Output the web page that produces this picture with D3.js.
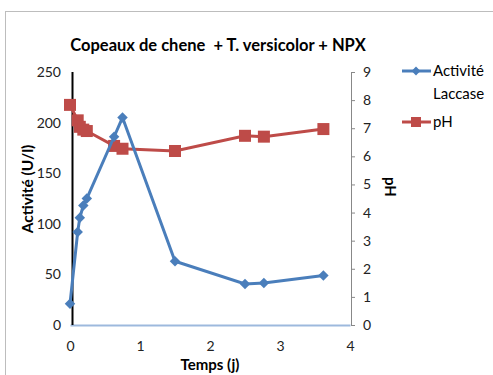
<!DOCTYPE html>
<html><head><meta charset="utf-8">
<script src="https://cdn.jsdelivr.net/npm/d3@7/dist/d3.min.js"></script>
<style>
body{margin:0;background:#fff;}
text{font-family:"Liberation Sans Narrow","Lato",sans-serif;white-space:pre;}
</style></head>
<body>
<svg id="c" width="493" height="375"></svg>
<script>
const times    = [0, 0.11, 0.14, 0.19, 0.24, 0.63, 0.75, 1.5, 2.5, 2.77, 3.62];
const laccase  = [21, 92, 106, 118, 125, 186, 205, 63, 40.5, 41.5, 49];
const ph       = [7.83, 7.28, 7.05, 6.95, 6.9, 6.37, 6.27, 6.19, 6.73, 6.7, 6.97];
const xTicks   = [0, 1, 2, 3, 4];
const yLTicks  = [0, 50, 100, 150, 200, 250];
const yRTicks  = [0, 1, 2, 3, 4, 5, 6, 7, 8, 9];
const seriesNames = ["Activité Laccase", "pH"];
const titleText = "Copeaux de chene  + T. versicolor + NPX";

const blue = "#4A7EBB", red = "#BE4B48";
const svg = d3.select("#c");
const x = d3.scaleLinear().domain([0, 4]).range([70, 350]);
const yL = d3.scaleLinear().domain([0, 250]).range([325, 72]);
const yR = d3.scaleLinear().domain([0, 9]).range([325, 72]);

// outer border
svg.append("rect").attr("x", 5.5).attr("y", 11.5).attr("width", 500).attr("height", 400)
  .attr("fill", "none").attr("stroke", "#BDBDBD").attr("stroke-width", 1);

// title
svg.append("text").attr("x", 218).attr("y", 51).attr("text-anchor", "middle")
  .attr("font-weight", "bold").attr("font-size", 16.5).attr("fill", "#000").text(titleText);

// left axis
const gL = svg.append("g").attr("transform", "translate(70,0)")
  .call(d3.axisLeft(yL).tickValues(yLTicks).tickSize(0).tickPadding(9));
gL.select(".domain").remove();
gL.selectAll("text").attr("font-size", 14).attr("fill", "#222");

// bottom axis
const gB = svg.append("g").attr("transform", "translate(0,325)")
  .call(d3.axisBottom(x).tickValues(xTicks).tickSize(0).tickPadding(16).tickFormat(d3.format("d")));
gB.select(".domain").attr("stroke", "#9DB9DD").attr("stroke-width", 2);
gB.selectAll("text").attr("font-size", 14).attr("fill", "#222");

// right axis
const gR = svg.append("g").attr("transform", "translate(351,0)")
  .call(d3.axisRight(yR).tickValues(yRTicks).tickSize(4).tickPadding(8));
gR.select(".domain").attr("stroke", "#888").attr("stroke-width", 1);
gR.selectAll(".tick line").attr("stroke", "#888");
gR.selectAll("text").attr("font-size", 14).attr("fill", "#222");

// black vertical line at start
svg.append("line").attr("x1", x(0) + 2.5).attr("x2", x(0) + 2.5).attr("y1", yL(250)).attr("y2", yL(0))
  .attr("stroke", "#000").attr("stroke-width", 2);

// axis titles
svg.append("text").attr("transform", "translate(33,189) rotate(-90)").attr("text-anchor", "middle")
  .attr("font-weight", "bold").attr("font-size", 15.5).text("Activité (U/l)");
svg.append("text").attr("transform", "translate(385,187) rotate(90)").attr("text-anchor", "middle")
  .attr("font-weight", "bold").attr("font-size", 15).text("pH");
svg.append("text").attr("x", 210).attr("y", 370).attr("text-anchor", "middle")
  .attr("font-weight", "bold").attr("font-size", 15).text("Temps (j)");

const dataL = times.map((t, i) => ({t, v: laccase[i]}));
const dataR = times.map((t, i) => ({t, v: ph[i]}));

// pH series
svg.append("path").datum(dataR).attr("fill", "none").attr("stroke", red).attr("stroke-width", 3)
  .attr("d", d3.line().x(d => x(d.t)).y(d => yR(d.v)));
svg.selectAll(".sq").data(dataR).join("rect").attr("class", "sq")
  .attr("x", d => x(d.t) - 6).attr("y", d => yR(d.v) - 6).attr("width", 12).attr("height", 12)
  .attr("fill", red);

// laccase series
svg.append("path").datum(dataL).attr("fill", "none").attr("stroke", blue).attr("stroke-width", 3)
  .attr("d", d3.line().x(d => x(d.t)).y(d => yL(d.v)));
const diamond = d3.symbol().type(d3.symbolDiamond2).size(70);
svg.selectAll(".dm").data(dataL).join("path").attr("class", "dm")
  .attr("transform", d => `translate(${x(d.t)},${yL(d.v)})`).attr("d", diamond).attr("fill", blue);

// legend
const lg = svg.append("g");
lg.append("line").attr("x1", 402).attr("x2", 431).attr("y1", 71).attr("y2", 71).attr("stroke", blue).attr("stroke-width", 3);
lg.append("path").attr("transform", "translate(416,71)").attr("d", d3.symbol().type(d3.symbolDiamond2).size(50)).attr("fill", blue);
lg.append("text").attr("x", 433).attr("y", 76).attr("font-size", 15).text(seriesNames[0].split(" ")[0]);
lg.append("text").attr("x", 433).attr("y", 99).attr("font-size", 15).text(seriesNames[0].split(" ")[1]);
lg.append("line").attr("x1", 402).attr("x2", 431).attr("y1", 122).attr("y2", 122).attr("stroke", red).attr("stroke-width", 3);
lg.append("rect").attr("x", 411).attr("y", 117).attr("width", 10).attr("height", 10).attr("fill", red);
lg.append("text").attr("x", 433).attr("y", 127).attr("font-size", 15).text(seriesNames[1]);
</script>
</body></html>
